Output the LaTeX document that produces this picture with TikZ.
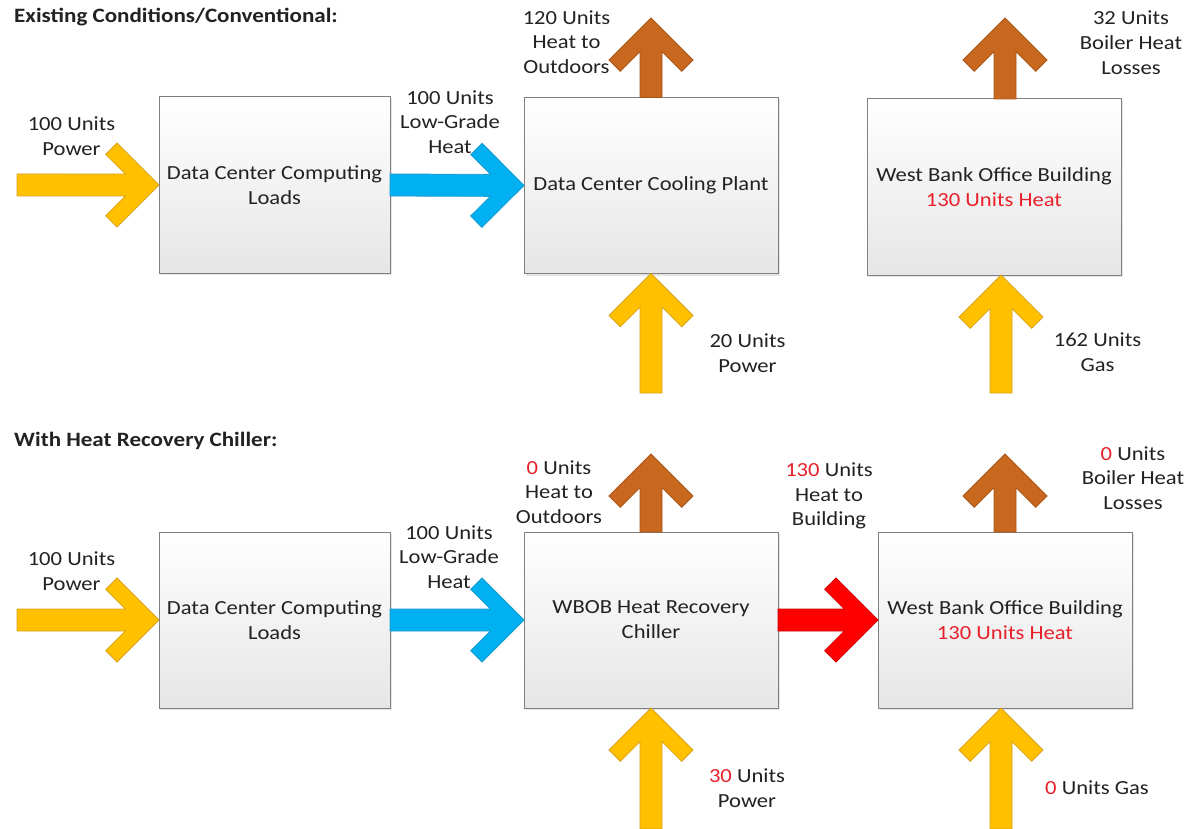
\documentclass[tikz,border=0pt]{standalone}
\usepackage{fontspec}
\setmainfont{Carlito}[FakeStretch=1.13]
\usetikzlibrary{calc,shadows}
\definecolor{txt}{HTML}{222222}
\definecolor{redtxt}{HTML}{E8202A}
\definecolor{goldf}{HTML}{FFC000}
\definecolor{goldd}{HTML}{D9A21B}
\definecolor{bluef}{HTML}{00B0F0}
\definecolor{blued}{HTML}{1A9BD0}
\definecolor{rustf}{HTML}{C8681E}
\definecolor{rustd}{HTML}{A85518}
\definecolor{redf}{HTML}{FF0000}
\definecolor{redd}{HTML}{D00000}
\definecolor{boxd}{HTML}{808080}
\definecolor{boxb}{HTML}{E6E6E6}
\definecolor{boxm}{HTML}{F7F7F7}
\tikzset{
  unitbox/.style={draw=boxd, line width=1pt, rectangle, inner sep=0pt, outer sep=0pt,
    minimum height=176pt, top color=white, middle color=boxm, bottom color=boxb,
    drop shadow={opacity=0.2, shadow xshift=2pt, shadow yshift=-2pt},
    font=\fontsize{20}{25}\selectfont, text=txt, align=center},
  lbl/.style={inner sep=0pt, font=\fontsize{20}{24.7}\selectfont, text=txt, align=center},
  hdr/.style={inner sep=0pt, anchor=west, font=\fontsize{20.4}{24}\selectfont\bfseries, text=txt},
  flow/.style={line width=0.8pt, line join=miter},
  goldflow/.style={flow, fill=goldf, draw=goldd},
  blueflow/.style={flow, fill=bluef, draw=blued},
  rustflow/.style={flow, fill=rustf, draw=rustd},
  redflow/.style={flow, fill=redf, draw=redd},
}
\newcommand\blockarrow[3]{%
  \filldraw[#1] (#3) -- ($(#3)!59.4pt!45:(#2)$) -- ($(#3)!61.5pt!29.9:(#2)$)
   -- ($(#3)!35.35pt!18.13:(#2)$) -- ($(#2)!11pt!-90:(#3)$) -- ($(#2)!11pt!90:(#3)$)
   -- ($(#3)!35.35pt!-18.13:(#2)$) -- ($(#3)!61.5pt!-29.9:(#2)$)
   -- ($(#3)!59.4pt!-45:(#2)$) -- cycle;}
\begin{document}
\begin{tikzpicture}[x=1pt,y=-1pt]
\fill[white] (0,0) rectangle (1188,829);
\useasboundingbox (0,0) rectangle (1188,829);

% headers
\node[hdr] (h1) at (14,17) {Existing Conditions/Conventional:};
\node[hdr] (h2) at (14,441) {With Heat Recovery Chiller:};

% boxes
\node[unitbox, minimum width=231pt] (b1) at (274.5,185) {Data Center Computing\\Loads};
\node[unitbox, minimum width=254pt] (b2) at (651,185.5) {Data Center Cooling Plant};
\node[unitbox, minimum width=254pt] (b3) at (994,187) {West Bank Office Building\\\textcolor{redtxt}{130 Units Heat}};
\node[unitbox, minimum width=231pt] (b4) at (274.5,620) {Data Center Computing\\Loads};
\node[unitbox, minimum width=254pt] (b5) at (651,620) {WBOB Heat Recovery\\Chiller};
\node[unitbox, minimum width=254pt] (b6) at (1005,620) {West Bank Office Building\\\textcolor{redtxt}{130 Units Heat}};

% free ends
\coordinate (p1) at (17,185);
\coordinate (o2) at (651,18);
\coordinate (p2) at (651,393);
\coordinate (o3b) at ($(b3.north)+(11,0)$);
\coordinate (o3) at (1005,18);
\coordinate (p3) at (1001,393);
\coordinate (p3t) at ($(b3.south)+(7,0)$);
\coordinate (q1) at (17,620);
\coordinate (o5) at (651,454);
\coordinate (q5) at (651,829);
\coordinate (o6) at (1005,454);
\coordinate (q6) at (1001,829);
\coordinate (q6t) at ($(b6.south)+(-4,0)$);

% flows, top
\blockarrow{goldflow}{p1}{b1.west}
\blockarrow{blueflow}{b1.east}{b2.west}
\blockarrow{rustflow}{b2.north}{o2}
\blockarrow{goldflow}{p2}{b2.south}
\blockarrow{rustflow}{o3b}{o3}
\blockarrow{goldflow}{p3}{p3t}
% flows, bottom
\blockarrow{goldflow}{q1}{b4.west}
\blockarrow{blueflow}{b4.east}{b5.west}
\blockarrow{redflow}{b5.east}{b6.west}
\blockarrow{rustflow}{b5.north}{o5}
\blockarrow{goldflow}{q5}{b5.south}
\blockarrow{rustflow}{b6.north}{o6}
\blockarrow{goldflow}{q6}{q6t}

% labels, top
\node[lbl] (l1) at (71.5,136.5) {100 Units\\Power};
\node[lbl] (l2) at (450,122) {100 Units\\Low-Grade\\Heat};
\node[lbl] (l3) at (566.5,42) {120 Units\\Heat to\\Outdoors};
\node[lbl] (l4) at (747.5,353) {20 Units\\Power};
\node[lbl] (l5) at (1131,42.5) {32 Units\\Boiler Heat\\Losses};
\node[lbl] (l6) at (1097.5,352.5) {162 Units\\Gas};
% labels, bottom
\node[lbl] (m1) at (71.5,571.5) {100 Units\\Power};
\node[lbl] (m2) at (449,557) {100 Units\\Low-Grade\\Heat};
\node[lbl] (m3) at (559,492) {\textcolor{redtxt}{0} Units\\Heat to\\Outdoors};
\node[lbl] (m4) at (829,496) {\textcolor{redtxt}{130} Units\\Heat to\\Building};
\node[lbl] (m5) at (747,788.5) {\textcolor{redtxt}{30} Units\\Power};
\node[lbl] (m6) at (1133,478) {\textcolor{redtxt}{0} Units\\Boiler Heat\\Losses};
\node[lbl] (m7) at (1097,788) {\textcolor{redtxt}{0} Units Gas};
\end{tikzpicture}
\end{document}
